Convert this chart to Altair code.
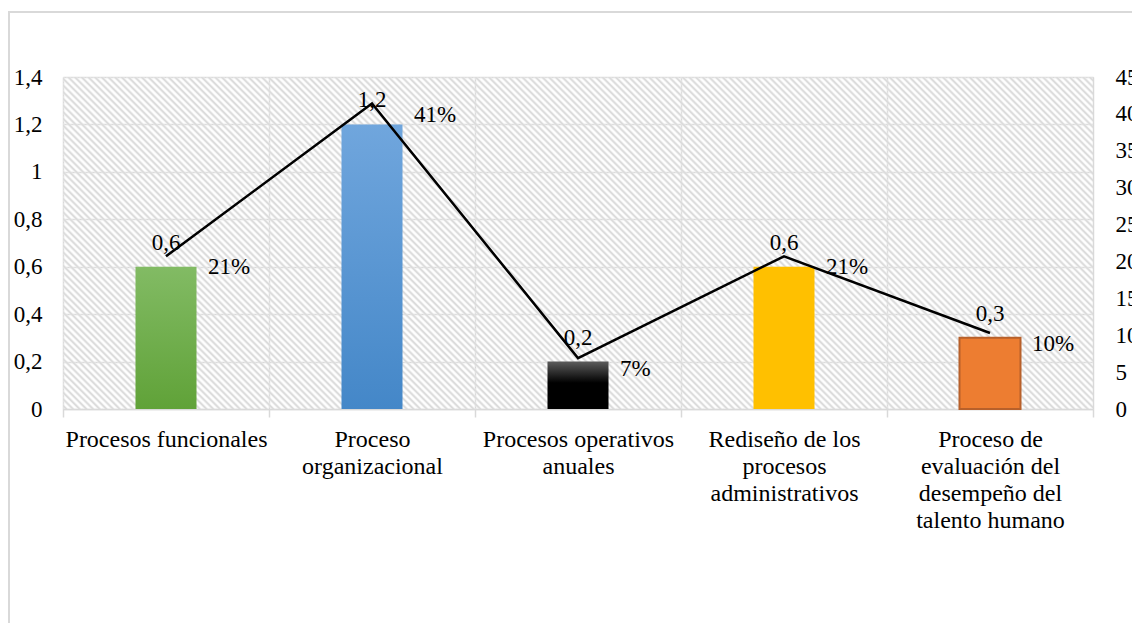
import altair as alt
import pandas as pd

# ---------------- data ----------------
categorias = [
    "Procesos funcionales",
    "Proceso\norganizacional",
    "Procesos operativos\nanuales",
    "Rediseño de los\nprocesos\nadministrativos",
    "Proceso de\nevaluación del\ndesempeño del\ntalento humano",
]
valores = [0.6, 1.2, 0.2, 0.6, 0.3]
porcentajes = [20.7, 41.4, 6.9, 20.7, 10.3]
ticks_izq = [0, 0.2, 0.4, 0.6, 0.8, 1.0, 1.2, 1.4]
ticks_der = [0, 5, 10, 15, 20, 25, 30, 35, 40, 45]

df = pd.DataFrame({"categoria": categorias, "valor": valores, "pct": porcentajes})

# ---------------- layout / style ----------------
W, H = 1030, 332
PAD = {"left": 63, "top": 77, "right": 1132 - 63 - W, "bottom": 623 - 77 - H}
FONT = "'Liberation Serif', 'Times New Roman', serif"
GRID = "#d9d9d9"


def vgrad(top, bottom, mid=None):
    stops = [{"offset": 0, "color": top}]
    if mid is not None:
        stops.append({"offset": mid[0], "color": mid[1]})
    stops.append({"offset": 1, "color": bottom})
    return {"gradient": "linear", "x1": 0, "y1": 0, "x2": 0, "y2": 1, "stops": stops}


bar_fills = [
    (vgrad("#82bb64", "#60a238"), None),
    (vgrad("#70a6dd", "#4487c8"), None),
    (vgrad("#5c5c5c", "#000000", (0.45, "#000000")), None),
    ("#ffc000", None),
    ("#ed7d31", "#b8602a"),
]

# hatch (diagonal stripes) as a gradient in bounding-box units
r = H / W
a = (1 + r) / (1 + r * r)
n = int(((W + H) / 2 ** 0.5) / 4.7)
stops = []
for i in range(n):
    stops.append({"offset": i / n, "color": "rgba(255,255,255,0)"})
    stops.append({"offset": (i + 0.4) / n, "color": "#dcdcdc"})
    stops.append({"offset": (i + 0.6) / n, "color": "#dcdcdc"})
stops.append({"offset": 1, "color": "rgba(255,255,255,0)"})
hatch = {"gradient": "linear", "x1": 0, "y1": 1, "x2": a, "y2": 1 - a * r, "stops": stops}

x_scale = alt.Scale(domain=categorias, paddingInner=0, paddingOuter=0)
x_axis = alt.Axis(
    title=None, labelAngle=0, labelFont=FONT, labelFontSize=24, labelColor="black",
    labelExpr="split(datum.label, '\\n')", labelLineHeight=27, labelLimit=300,
    labelPadding=10, labelBaseline="top",
    tickBand="extent", tickSize=8, tickColor=GRID, tickWidth=1.5,
    domainColor=GRID, domainWidth=1.5,
    grid=True, gridColor=GRID, gridWidth=1.5,
)
y_left_scale = alt.Scale(domain=[0, 1.4])
y_left_axis = alt.Axis(
    title=None, values=ticks_izq, format=".2~f",
    labelExpr="replace(datum.label, '.', ',')",
    labelFont=FONT, labelFontSize=23, labelColor="black", labelPadding=21,
    ticks=False, domain=False,
    grid=True, gridColor=GRID, gridWidth=1.5,
)
y_right_scale = alt.Scale(domain=[0, 45])
y_right_axis = alt.Axis(
    title=None, orient="right", values=ticks_der, format="d",
    labelFont=FONT, labelFontSize=23, labelColor="black", labelPadding=22,
    labelAlign="left", ticks=False, domain=False, grid=False,
)

X = alt.X("categoria:N", scale=x_scale, sort=categorias, axis=x_axis)
X_mid = alt.X("categoria:N", scale=x_scale, sort=categorias, axis=x_axis, bandPosition=0.5)
Y_left = alt.Y("valor:Q", scale=y_left_scale, axis=y_left_axis)
Y_right = alt.Y("pct:Q", scale=y_right_scale, axis=y_right_axis)

base = alt.Chart(df)

# background hatch & outer border
bg = alt.Chart(alt.Data(values=[{}])).mark_rect(fill=hatch).encode(
    x=alt.value(0), x2=alt.value(W), y=alt.value(0), y2=alt.value(H)
)
border = alt.Chart(alt.Data(values=[{}])).mark_rect(
    fill="transparent", stroke=GRID, strokeWidth=2
).encode(
    x=alt.value(9 - PAD["left"]), x2=alt.value(1132 - PAD["left"] + 30),
    y=alt.value(12 - PAD["top"]), y2=alt.value(623 - PAD["top"] + 30),
)

# bars
bar_layers = []
for cat, (fill, stroke) in zip(categorias, bar_fills):
    kw = {"fill": fill, "size": 61}
    if stroke:
        kw.update(stroke=stroke, strokeWidth=2)
    bar_layers.append(
        base.transform_filter(alt.datum.categoria == cat).mark_bar(**kw).encode(x=X, y=Y_left)
    )

bar_labels = base.transform_calculate(
    etiqueta="replace(format(datum.valor, '.1f'), '.', ',')"
).mark_text(font=FONT, fontSize=23, color="black", baseline="alphabetic", dy=-17).encode(
    x=X_mid, y=Y_left, text="etiqueta:N",
)

bars_group = alt.layer(*bar_layers, bar_labels)

line = base.mark_line(color="black", strokeWidth=2.5).encode(x=X_mid, y=Y_right)
pct_labels = base.transform_calculate(
    etiqueta="format(datum.pct, '.0f') + '%'"
).mark_text(font=FONT, fontSize=23, color="black", align="left", baseline="alphabetic", dx=42, dy=18).encode(
    x=X_mid, y=Y_right, text="etiqueta:N",
)
line_group = alt.layer(line, pct_labels)

chart = (
    alt.layer(bg, border, bars_group, line_group)
    .resolve_scale(y="independent")
    .properties(width=W, height=H, autosize=alt.AutoSizeParams(type="none"), padding=PAD,
                background="white")
    .configure_view(strokeWidth=0)
    .configure(font=FONT)
)

chart.save("out.html", embed_options={"renderer": "svg", "actions": False})
